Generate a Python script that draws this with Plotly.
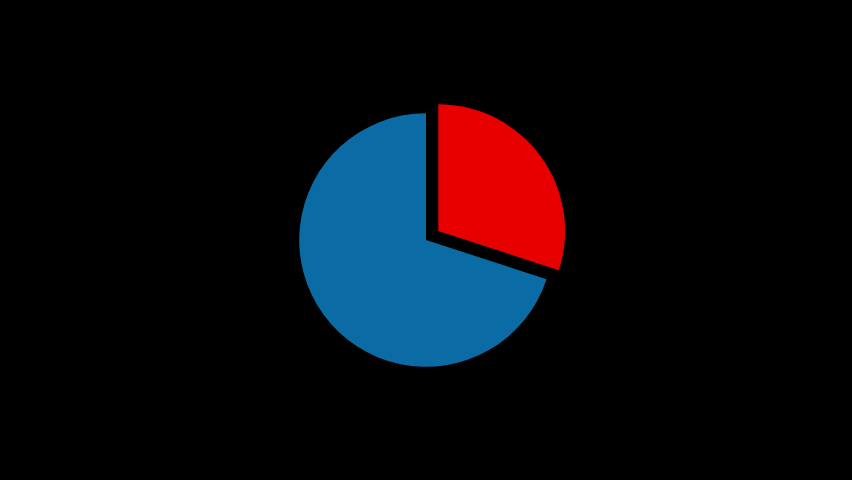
import plotly.graph_objects as go

labels = ["Red", "Blue"]
values = [30, 70]
colors = ["#E80000", "#0B6BA4"]
pulls = [0.12, 0]

fig = go.Figure(go.Pie(
    labels=labels, values=values, sort=False, direction="clockwise",
    rotation=0, pull=pulls, marker=dict(colors=colors, line=dict(width=0)),
    textinfo="none", hoverinfo="label+percent", showlegend=False,
))
fig.update_layout(
    width=852, height=480,
    paper_bgcolor="black", plot_bgcolor="black",
    margin=dict(l=0, r=0, t=98, b=98),
    showlegend=False,
)
fig.write_html(
    "out.html",
    config={"displayModeBar": False},
    post_script="document.body.style.margin='0';document.body.style.background='black';document.documentElement.style.background='black';",
)
